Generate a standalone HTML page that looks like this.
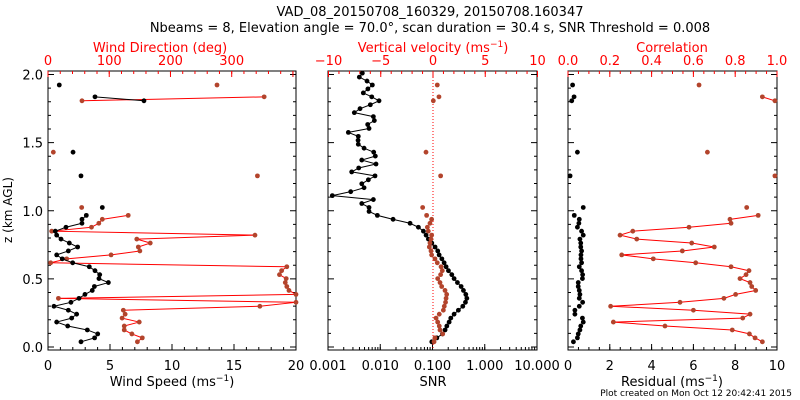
<!DOCTYPE html>
<html><head><meta charset="utf-8">
<style>
html,body{margin:0;padding:0;background:#fff;}
svg{display:block;font-family:"DejaVu Sans","Liberation Sans",sans-serif;}
</style></head>
<body>
<svg id="chart" width="800" height="400" viewBox="0 0 800 400" xmlns="http://www.w3.org/2000/svg">
<text x="430" y="16" font-size="13" text-anchor="middle">VAD_08_20150708_160329, 20150708.160347</text>
<text x="430" y="32" font-size="13" text-anchor="middle">Nbeams = 8, Elevation angle = 70.0°, scan duration = 30.4 s, SNR Threshold = 0.008</text>
<text x="792" y="396" font-size="9" text-anchor="end">Plot created on Mon Oct 12 20:42:41 2015</text>
<g id="layer"></g>
</svg>
<script>
// Heights (km AGL), top-down
const heights = [2.010,1.981,1.952,1.923,1.894,1.865,1.836,1.807,1.778,1.749,1.720,1.691,1.662,1.633,1.604,1.575,1.546,1.517,1.488,1.459,1.430,1.401,1.372,1.343,1.314,1.285,1.256,1.227,1.198,1.169,1.140,1.111,1.082,1.053,1.024,0.995,0.966,0.937,0.908,0.879,0.850,0.821,0.792,0.763,0.734,0.705,0.676,0.647,0.618,0.589,0.560,0.531,0.502,0.473,0.444,0.415,0.386,0.357,0.328,0.299,0.270,0.241,0.212,0.183,0.154,0.125,0.096,0.067,0.038];
const N = null;
const windSpeed = [N,N,N,0.91,N,N,3.79,7.74,N,N,N,N,N,N,N,N,N,N,N,N,2.02,N,N,N,N,N,2.66,N,N,N,N,N,N,N,4.38,N,
 3.09,2.74,2.74,1.45,0.59,0.70,1.05,1.72,2.39,1.64,0.70,1.15,1.99,3.33,3.79,4.17,4.11,4.87,3.74,3.57,2.98,2.5,1.85,0.48,1.64,2.31,1.91,0.70,1.59,3.17,4.01,3.76,2.66];
const windDir = [N,N,N,276,N,N,353,55.5,N,N,N,N,N,N,N,N,N,N,N,N,8.7,N,N,N,N,N,342,N,N,N,N,N,N,N,55,N,
 131,88.7,83,71,6,338,145,167,147.5,150,103,30.5,4.4,390,381.5,378,389,387.5,390,393.5,405,17,405,346,123,126,121,149,124.5,124.5,137,154,146];
const snr = [0.00454,0.00398,0.00558,0.00706,0.0058,0.00474,0.00687,0.00948,0.00646,0.0041,0.00319,0.00738,0.00771,0.00575,0.0061,0.00245,0.0038,0.00376,0.0038,0.0049,0.0075,0.00805,0.00443,0.0083,0.00387,0.00284,0.00794,0.00592,0.00443,0.0049,0.00272,0.00121,0.00738,0.00443,0.0061,0.0061,
 0.0088,0.0176,0.0372,0.0537,0.067,0.0754,0.0834,0.097,0.112,0.126,0.134,0.151,0.167,0.182,0.202,0.234,0.259,0.30,0.353,0.391,0.434,0.454,0.427,0.38,0.313,0.259,0.224,0.208,0.188,0.174,0.155,0.121,0.097];
const vertVel = [N,N,N,0.41,N,N,0.57,0.03,N,N,N,N,N,N,N,N,N,N,N,N,-0.67,N,N,N,N,N,0.73,N,N,N,N,N,N,N,-0.99,N,
 -0.61,-0.13,-0.29,-0.54,-0.45,-0.13,-0.19,-0.29,-0.35,-0.19,-0.13,0.19,0.41,0.77,0.89,0.73,0.45,0.67,0.83,1.15,1.31,1.25,1.2,1.08,0.99,0.6,0.29,0.45,0.6,0.67,0.93,0.19,0.1];
const residual = [N,N,N,0.22,N,N,0.29,0.18,N,N,N,N,N,N,N,N,N,N,N,N,0.45,N,N,N,N,N,0.1,N,N,N,N,N,N,N,0.73,N,
 0.30,0.54,0.52,0.45,0.65,0.73,0.57,0.61,0.61,0.65,0.62,0.62,0.65,0.54,0.65,0.70,0.69,0.49,0.49,0.54,0.57,0.54,0.70,0.54,0.33,0.33,0.69,0.73,0.61,0.57,0.49,0.45,0.26];
const correlation = [N,N,N,0.627,N,N,0.93,0.99,N,N,N,N,N,N,N,N,N,N,N,N,0.667,N,N,N,N,N,0.99,N,N,N,N,N,N,N,0.855,N,
 0.91,0.775,0.78,0.579,0.31,0.249,0.329,0.592,0.70,0.547,0.257,0.408,0.611,0.78,0.866,0.852,0.823,0.871,0.879,0.898,0.802,0.746,0.536,0.204,0.6,0.871,0.836,0.217,0.464,0.786,0.868,0.895,0.93];
const yTicks = ["0.0","0.5","1.0","1.5","2.0"];
const speedTicks = ["0","5","10","15","20"];
const dirTicks = ["0","100","200","300"];
const snrTicks = ["0.001","0.010","0.100","1.000","10.000"];
const wTicks = ["−10","−5","0","5","10"];
const resTicks = ["0","2","4","6","8","10"];
const corTicks = ["0.0","0.2","0.4","0.6","0.8","1.0"];

const NS="http://www.w3.org/2000/svg";
const layer=document.getElementById('layer');
const BROWN="#b3442c", RED="#ff0000";
const TOP=71, BOT=350;
function yS(z){return 347-(z)*136.25;}
function mk(tag,attrs,parent){const e=document.createElementNS(NS,tag);for(const k in attrs)e.setAttribute(k,attrs[k]);(parent||layer).appendChild(e);return e;}
function txt(s,x,y,attrs){const e=mk('text',Object.assign({x:x,y:y,'font-size':13,'text-anchor':'middle'},attrs||{}));e.textContent=s;return e;}

const panels=[{x0:48,x1:296,name:'wind'},{x0:328,x1:537,name:'snr'},{x0:568,x1:777,name:'residual'}];
const speedX=v=>48+v/20*248;
const dirX=v=>48+v/405*248;
const snrX=v=>328+(Math.log10(v)+3)*52.25;
const wX=v=>433+v/10*104.5;
const resX=v=>568+v/10*209;
const corX=v=>568+v*209;

// frames & y ticks
panels.forEach(p=>{
  const r=mk('rect',{x:p.x0,y:TOP,width:p.x1-p.x0,height:BOT-TOP,fill:'none',stroke:'#000','stroke-width':1});
  
  
  for(let i=0;i<=20;i++){const z=i*0.1;const y=yS(z);const L=(i%5==0)?6:3;
    mk('line',{x1:p.x0,x2:p.x0+L,y1:y,y2:y,stroke:'#000'});
    mk('line',{x1:p.x1,x2:p.x1-L,y1:y,y2:y,stroke:'#000'});}
});
yTicks.forEach((t,i)=>{const e=txt(t,43,yS(i*0.5)+5,{'text-anchor':'end'});
  
  });
const yt=txt('z (km AGL)',0,0,{transform:'translate(12,210) rotate(-90)','font-size':12});



function bottomTicks(minor,major,fx,labels,labelVals,color){
  minor.forEach(v=>{const x=fx(v);mk('line',{x1:x,x2:x,y1:BOT,y2:BOT-3,stroke:color});});
  major.forEach(v=>{const x=fx(v);mk('line',{x1:x,x2:x,y1:BOT,y2:BOT-6,stroke:color});});
  labels.forEach((t,i)=>{const e=txt(t,fx(labelVals[i]),370,{fill:color});
    
    });
}
function topTicks(minor,major,fx,labels,labelVals){
  minor.forEach(v=>{const x=fx(v);mk('line',{x1:x,x2:x,y1:TOP,y2:TOP+3,stroke:RED});});
  major.forEach(v=>{const x=fx(v);mk('line',{x1:x,x2:x,y1:TOP,y2:TOP+6,stroke:RED});});
  labels.forEach((t,i)=>{const e=txt(t,fx(labelVals[i]),65,{fill:RED});
    
    });
}
const rng=(a,b,s)=>{const o=[];for(let v=a;v<=b+1e-9;v+=s)o.push(+v.toFixed(6));return o;};
// panel 1
bottomTicks(rng(0,20,1),rng(0,20,5),speedX,speedTicks,speedTicks.map(Number),'#000');
topTicks(rng(0,400,20),rng(0,400,100),dirX,dirTicks,dirTicks.map(Number));
// panel 2
const logMinor=[];for(let d=-3;d<1;d++)for(let m=1;m<=9;m++)logMinor.push(m*Math.pow(10,d));
bottomTicks(logMinor,[0.001,0.01,0.1,1,10],snrX,snrTicks,[0.001,0.01,0.1,1,10],'#000');
topTicks(rng(-10,10,1),rng(-10,10,5),wX,wTicks,[-10,-5,0,5,10]);
// panel 3
bottomTicks(rng(0,10,0.5),rng(0,10,2),resX,resTicks,resTicks.map(Number),'#000');
topTicks(rng(0,1,0.05),rng(0,1,0.2),corX,corTicks,corTicks.map(Number));

// axis titles
function title(s,x,y,color,name,sup){const e=mk('text',{x:x,y:y,'font-size':13,'text-anchor':'middle',fill:color});
  e.textContent=s;
  if(sup){const t=mk('tspan',{dy:-5,'font-size':9},e);t.textContent='−1';const t2=mk('tspan',{dy:5},e);t2.textContent=')';}
  
  }
title('Wind Speed (ms',172,386,'#000','x-axis-title-wind-speed',true);
title('Wind Direction (deg)',160,52,RED,'top-axis-title-wind-direction',false);
title('SNR',433,386,'#000','x-axis-title-snr',false);
title('Vertical velocity (ms',433,52,RED,'top-axis-title-vertical-velocity',true);
title('Residual (ms',672,386,'#000','x-axis-title-residual',true);
title('Correlation',672,52,RED,'top-axis-title-correlation',false);

// zero line
const zl=mk('line',{x1:wX(0),x2:wX(0),y1:TOP,y2:BOT,stroke:RED,'stroke-dasharray':'1,2'});



function series(vals,fx,lineColor,ptColor,name,connect){
  const g=mk('g',{});
  
  
  if(connect){
    for(let i=0;i<vals.length-1;i++){
      if(vals[i]!=null&&vals[i+1]!=null){
        mk('line',{x1:fx(vals[i]),y1:yS(heights[i]),x2:fx(vals[i+1]),y2:yS(heights[i+1]),stroke:lineColor,'stroke-width':1},g);}
    }
  }
  vals.forEach((v,i)=>{if(v==null)return;
    const c=mk('circle',{cx:fx(v),cy:yS(heights[i]),r:2.4,fill:ptColor},g);
    
    });
}
series(windDir,dirX,RED,BROWN,'wind-direction-series',true);
series(windSpeed,speedX,'#000','#000','wind-speed-series',true);
series(snr,snrX,'#000','#000','snr-series',true);
series(vertVel,wX,RED,BROWN,'vertical-velocity-series',false);
series(correlation,corX,RED,BROWN,'correlation-series',true);
series(residual,resX,'#000','#000','residual-series',false);
</script>
</body></html>
